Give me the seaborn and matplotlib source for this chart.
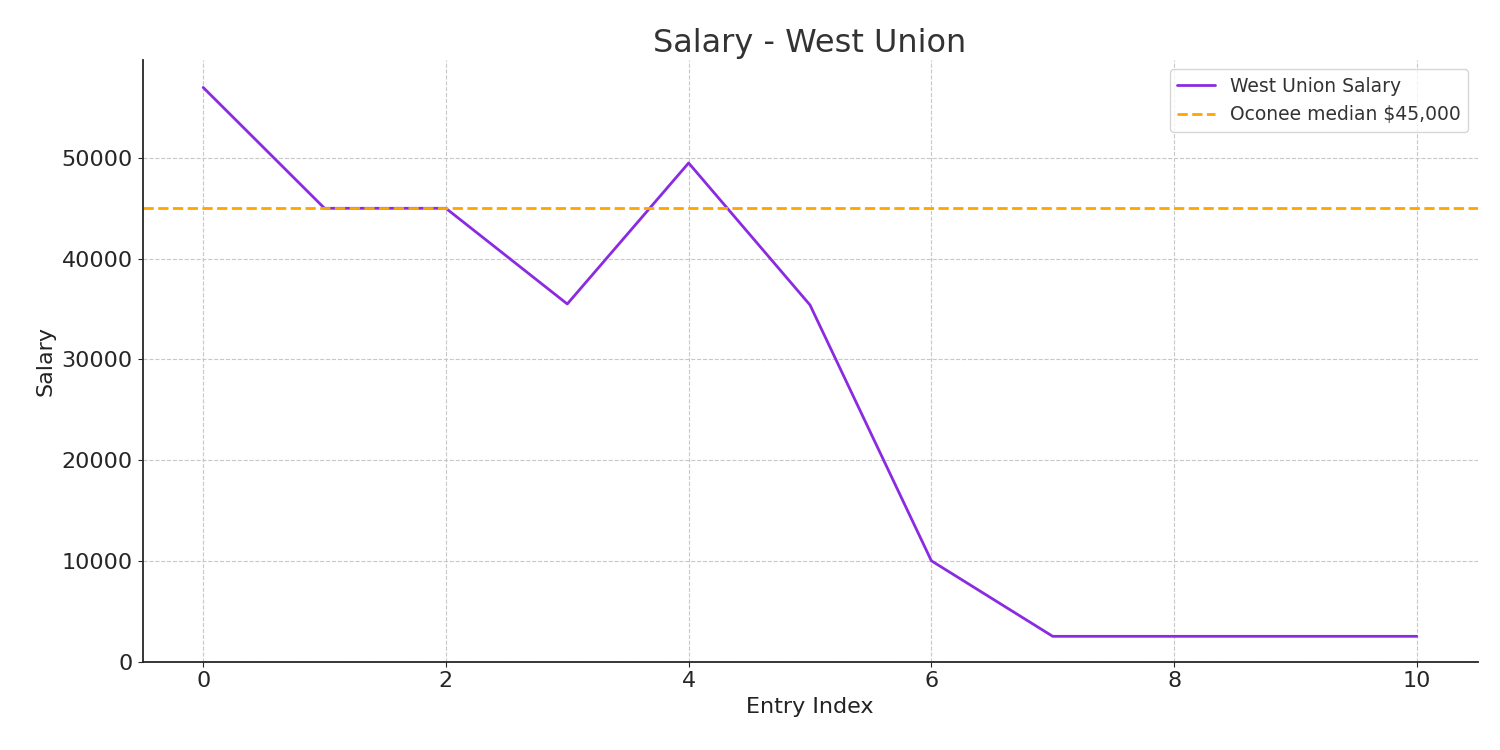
import matplotlib
matplotlib.use("Agg")
import matplotlib.pyplot as plt
import seaborn as sns
import pandas as pd

entry_index = [0, 1, 2, 3, 4, 5, 6, 7, 8, 9, 10]
salary = [57000, 45000, 45000, 35500, 49500, 35400, 10000, 2500, 2500, 2500, 2500]
median_value = 45000

sns.set_style("ticks")
plt.rcParams['font.family'] = ['DejaVu Sans']

df = pd.DataFrame({"Entry Index": entry_index, "Salary": salary})
fig, ax = plt.subplots(figsize=(15, 7.5), dpi=100)
sns.lineplot(data=df, x="Entry Index", y="Salary", ax=ax, color="#8A2BE2", linewidth=2, label="West Union Salary")
ax.axhline(median_value, color="orange", linestyle="--", linewidth=2, label="Oconee median $45,000")
ax.set_xlim(-0.5, 10.5)
ax.set_ylim(0, 59725)
ax.grid(True, linestyle="--", color="#c8c8c8", linewidth=0.8)
ax.set_title("Salary - West Union", fontsize=23, color="#333333")
ax.set_xlabel("Entry Index", fontsize=16, color="#222222")
ax.set_ylabel("Salary", fontsize=16, color="#222222")
ax.tick_params(labelsize=16)
for s in ax.spines.values():
    s.set_linewidth(1.3)
sns.despine(ax=ax)
ax.legend(loc="upper right", fontsize=13.5, labelcolor="#333333")
fig.subplots_adjust(left=0.095, right=0.985, top=0.92, bottom=0.118)
fig.savefig("out.png")
